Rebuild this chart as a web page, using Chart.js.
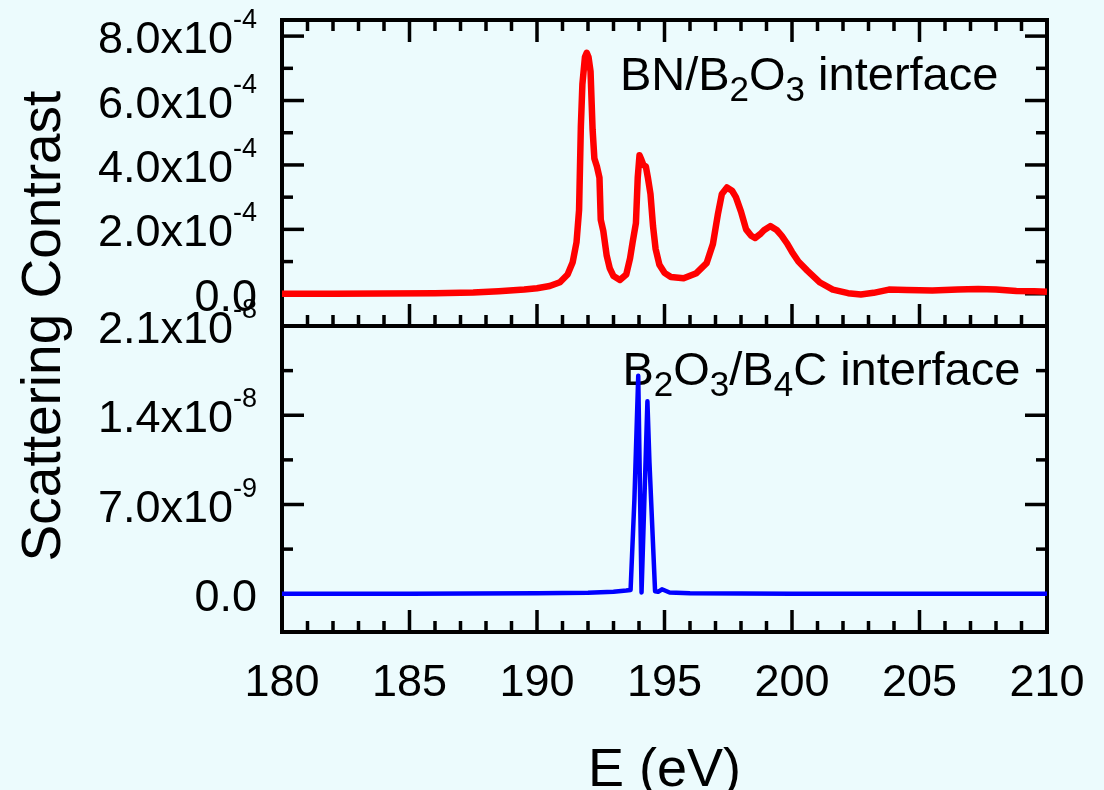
<!DOCTYPE html>
<html>
<head>
<meta charset="utf-8">
<title>Scattering contrast</title>
<script src="https://cdn.jsdelivr.net/npm/chart.js@4.4.1/dist/chart.umd.min.js"></script>
<style>
  html, body { margin: 0; padding: 0; background: #ecfbfd; }
  #chart { display: block; }
</style>
</head>
<body>
<canvas id="chart" width="1104" height="790"></canvas>
<script>
// BN/B2O3 interface, contrast in units of 1e-4
const bnEnergy = [180.0, 182.0, 184.0, 186.0, 187.5, 188.5, 189.5, 190.0, 190.5, 190.9,
  191.2, 191.4, 191.55, 191.65, 191.72, 191.78, 191.88, 191.95, 192.02, 192.1,
  192.18, 192.25, 192.35, 192.45, 192.5, 192.6, 192.73, 192.85, 193.0, 193.25,
  193.5, 193.65, 193.75, 193.88, 193.95, 194.02, 194.1, 194.17, 194.27, 194.35,
  194.45, 194.55, 194.65, 194.8, 195.0, 195.25, 195.75, 196.25, 196.65, 196.9,
  197.1, 197.25, 197.45, 197.65, 197.8, 198.0, 198.2, 198.4, 198.55, 198.75,
  198.9, 199.15, 199.4, 199.6, 199.8, 200.0, 200.25, 200.6, 201.1, 201.6,
  202.2, 202.7, 203.2, 203.8, 204.5, 205.5, 206.5, 207.3, 208.0, 208.8,
  209.5, 210.0];
const bnContrast = [0.00, 0.00, 0.01, 0.02, 0.04, 0.08, 0.13, 0.17, 0.24, 0.36,
  0.60, 0.98, 1.60, 2.60, 5.20, 6.50, 7.35, 7.48, 7.35, 6.90,
  5.10, 4.20, 3.95, 3.60, 2.30, 1.95, 1.20, 0.80, 0.55, 0.43,
  0.60, 1.10, 1.60, 2.20, 3.60, 4.30, 4.15, 4.00, 3.95, 3.60,
  3.10, 2.10, 1.40, 0.90, 0.65, 0.52, 0.48, 0.64, 0.95, 1.55,
  2.50, 3.10, 3.30, 3.20, 3.00, 2.55, 2.00, 1.80, 1.73, 1.85,
  1.97, 2.10, 1.98, 1.80, 1.57, 1.30, 1.00, 0.72, 0.35, 0.13,
  0.02, -0.02, 0.03, 0.13, 0.12, 0.10, 0.13, 0.15, 0.13, 0.09,
  0.08, 0.06];

// B2O3/B4C interface, contrast in units of 1e-9
const bcEnergy = [180, 185, 190, 192, 193, 193.5, 193.67, 193.82, 193.97, 194.1,
  194.33, 194.41, 194.63, 194.75, 194.9, 195.2, 196, 200, 205, 210];
const bcContrast = [0, 0, 0.03, 0.08, 0.15, 0.25, 0.3, 7.4, 17.1, 0.1,
  15.1, 10.3, 0.2, 0.15, 0.35, 0.1, 0.03, 0, 0, 0];

const BN_UNIT = 1e-4;
const BC_UNIT = 1e-9;

// axis ranges and tick labels
const xMin = 180, xMax = 210;
const xTicks = [180, 185, 190, 195, 200, 205, 210];
const topMin = -1.0e-4, topMax = 8.5e-4;
const topTicks = [0, 2e-4, 4e-4, 6e-4, 8e-4];
const topTickLabels = [['0.0', ''], ['2.0x10', '-4'], ['4.0x10', '-4'], ['6.0x10', '-4'], ['8.0x10', '-4']];
const botMin = -3e-9, botMax = 2.1e-8;
const botTicks = [0, 7e-9, 1.4e-8, 2.1e-8];
const botTickLabels = [['0.0', ''], ['7.0x10', '-9'], ['1.4x10', '-8'], ['2.1x10', '-8']];

const FONT = '"Liberation Sans", Arial, Helvetica, sans-serif';

function drawRich(ctx, parts, x, y, size, smallSize, shift) {
    let cx = x;
    for (const p of parts) {
        ctx.font = (p.s ? smallSize : size) + 'px ' + FONT;
        ctx.fillText(p.t, cx, y + (p.s ? shift : 0));
        cx += ctx.measureText(p.t).width;
    }
}

const frame = {
    id: 'frame',
    beforeDatasetsDraw(chart) {
        const ctx = chart.ctx;
        const x = chart.scales.x, yt = chart.scales.yTop, yb = chart.scales.yBot;
        const line = (x1, y1, x2, y2) => {
            ctx.beginPath(); ctx.moveTo(x1, y1); ctx.lineTo(x2, y2); ctx.stroke();
        };
        ctx.save();
        ctx.strokeStyle = '#000';
        ctx.lineWidth = 3.5;
        // x ticks, inward: top of upper panel, shared middle, bottom of lower panel
        for (let e = xMin; e <= xMax; e++) {
            const px = x.getPixelForValue(e);
            const len = e % 5 === 0 ? 22 : 11;
            line(px, yt.top, px, yt.top + len);
            line(px, yt.bottom, px, yt.bottom - len);
            line(px, yb.bottom, px, yb.bottom - len);
        }
        // y ticks on both sides
        for (let i = -1; i <= 8; i++) {
            const py = yt.getPixelForValue(i * 1e-4);
            const len = i % 2 === 0 ? 22 : 11;
            line(x.left, py, x.left + len, py);
            line(x.right, py, x.right - len, py);
        }
        for (let i = 0; i <= 6; i++) {
            const py = yb.getPixelForValue(i * 3.5e-9);
            const len = i % 2 === 0 ? 22 : 11;
            line(x.left, py, x.left + len, py);
            line(x.right, py, x.right - len, py);
        }
        ctx.lineWidth = 4;
        ctx.strokeRect(x.left, yt.top, x.right - x.left, yt.bottom - yt.top);
        ctx.strokeRect(x.left, yb.top, x.right - x.left, yb.bottom - yb.top);

        // panel captions
        ctx.fillStyle = '#000';
        ctx.textAlign = 'left';
        ctx.textBaseline = 'alphabetic';
        drawRich(ctx, [{t: 'BN/B'}, {t: '2', s: 1}, {t: 'O'}, {t: '3', s: 1}, {t: ' interface'}],
            x.getPixelForValue(193.25), yt.getPixelForValue(6.33e-4), 47, 35, 11);
        drawRich(ctx, [{t: 'B'}, {t: '2', s: 1}, {t: 'O'}, {t: '3', s: 1}, {t: '/B'}, {t: '4', s: 1}, {t: 'C interface'}],
            x.getPixelForValue(193.35), yb.getPixelForValue(1.64e-8), 47, 35, 11);
        ctx.restore();
    },
    afterDraw(chart) {
        const ctx = chart.ctx;
        const x = chart.scales.x, yt = chart.scales.yTop, yb = chart.scales.yBot;
        ctx.save();
        ctx.fillStyle = '#000';
        ctx.textBaseline = 'alphabetic';
        const right = x.left - 25;
        const yLabels = (scale, ticks, labels) => {
            ticks.forEach((v, i) => {
                const py = scale.getPixelForValue(v);
                const [main, sup] = labels[i];
                ctx.font = '27px ' + FONT;
                const sw = sup ? ctx.measureText(sup).width : 0;
                ctx.textAlign = 'left';
                if (sup) ctx.fillText(sup, right - sw, py - 8);
                ctx.font = '45px ' + FONT;
                ctx.textAlign = 'right';
                ctx.fillText(main, right - sw, py + 17);
            });
        };
        yLabels(yt, topTicks, topTickLabels);
        yLabels(yb, botTicks, botTickLabels);

        ctx.font = '45px ' + FONT;
        ctx.textAlign = 'center';
        xTicks.forEach(v => ctx.fillText(String(v), x.getPixelForValue(v), 696));

        ctx.font = '54px ' + FONT;
        ctx.fillText('E (eV)', (x.left + x.right) / 2, 786);

        ctx.translate(60, (yt.top + yb.bottom) / 2);
        ctx.rotate(-Math.PI / 2);
        ctx.font = '55px ' + FONT;
        ctx.fillText('Scattering Contrast', 0, 0);
        ctx.restore();
    }
};

const ctx = document.getElementById('chart');
new Chart(ctx, {
    type: 'line',
    data: {
        datasets: [{
            label: 'BN/B2O3 interface',
            data: bnEnergy.map((e, i) => ({x: e, y: bnContrast[i] * BN_UNIT})),
            borderColor: '#ff0000',
            borderWidth: 6.5,
            borderJoinStyle: 'round',
            pointRadius: 0,
            tension: 0,
            yAxisID: 'yTop'
        }, {
            label: 'B2O3/B4C interface',
            data: bcEnergy.map((e, i) => ({x: e, y: bcContrast[i] * BC_UNIT})),
            borderColor: '#0000ff',
            borderWidth: 4.5,
            borderJoinStyle: 'round',
            pointRadius: 0,
            tension: 0,
            yAxisID: 'yBot'
        }]
    },
    options: {
        responsive: false,
        animation: false,
        layout: { padding: { left: 282, right: 57, top: 20, bottom: 158 } },
        plugins: { legend: { display: false }, tooltip: { enabled: false } },
        scales: {
            x: { type: 'linear', min: xMin, max: xMax, display: false },
            yTop: { type: 'linear', position: 'left', stack: 'panels', weight: 2,
                    min: topMin, max: topMax, display: false },
            yBot: { type: 'linear', position: 'left', stack: 'panels', weight: 1,
                    min: botMin, max: botMax, display: false }
        }
    },
    plugins: [frame]
});
</script>
</body>
</html>
